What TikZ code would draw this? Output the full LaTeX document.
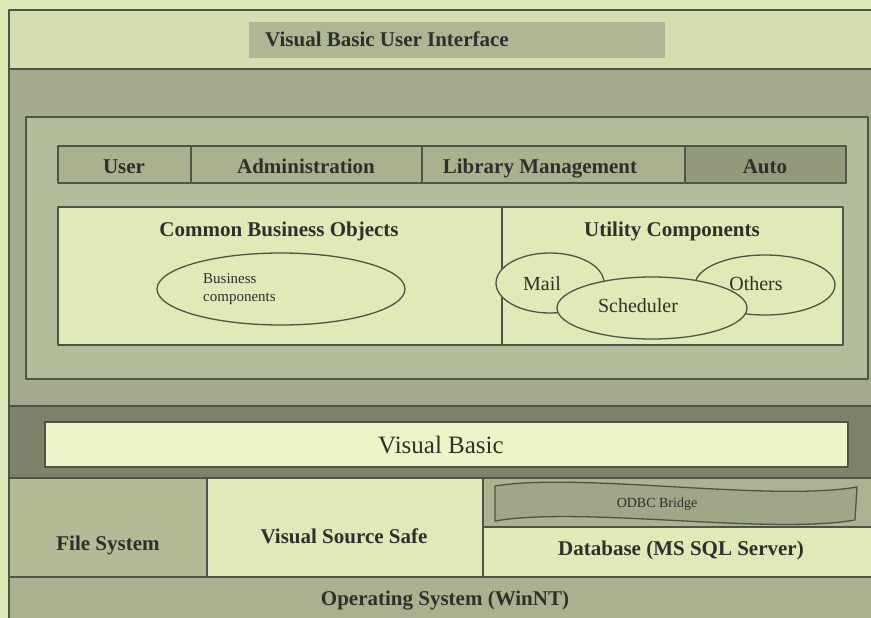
\documentclass[tikz,border=0pt]{standalone}
\usepackage{fontspec}
\setmainfont{Liberation Serif}
\usetikzlibrary{calc, positioning}

\definecolor{pagebg}{HTML}{DDE9B8}
\definecolor{topband}{HTML}{D4DEB2}
\definecolor{uigray}{HTML}{AEB696}
\definecolor{midband}{HTML}{A3AB8C}
\definecolor{innerpanel}{HTML}{B4BD9B}
\definecolor{rowgray}{HTML}{A9B18F}
\definecolor{autogray}{HTML}{939A7C}
\definecolor{lightbox}{HTML}{E0E9B8}
\definecolor{darkband}{HTML}{7C8369}
\definecolor{vbbar}{HTML}{EDF5C8}
\definecolor{fsgray}{HTML}{B2BA96}
\definecolor{odbcgray}{HTML}{ABB393}
\definecolor{bridgegray}{HTML}{9FA788}
\definecolor{osgray}{HTML}{A9B190}
\definecolor{edgegray}{HTML}{4F5444}
\definecolor{inkgray}{HTML}{2E302A}

\tikzset{
  panel/.style={draw=edgegray, line width=1.3pt},
  lbl/.style={text=inkgray, inner sep=0pt, text height=17pt, text depth=3pt,
    font=\bfseries\fontsize{21}{24}\selectfont},
  plain/.style={text=inkgray, inner sep=0pt, text height=16pt, text depth=3pt,
    font=\fontsize{20}{23}\selectfont}
}

\begin{document}
\begin{tikzpicture}[x=1pt, y=-1pt, line join=round]
\useasboundingbox (0,0) rectangle (871,618);
\fill[pagebg] (0,0) rectangle (871,618);

% User interface band
\filldraw[panel, fill=topband] (9,10) rectangle (880,69);
\fill[uigray] (249,22) rectangle (665,58);
\node[lbl, anchor=west] (vbui) at (265,40) {Visual Basic User Interface};

% Application band
\filldraw[panel, fill=midband] (9,69) rectangle (880,406);
\filldraw[panel, fill=innerpanel] (26,117) rectangle (868,379);

% Module row
\filldraw[panel, fill=rowgray] (58,146) rectangle (685,183);
\filldraw[panel, fill=autogray] (685,146) rectangle (846,183);
\draw[panel] (191,146) -- (191,183);
\draw[panel] (422,146) -- (422,183);
\node[lbl] (user) at (124,166) {User};
\node[lbl] (admin) at (306,166) {Administration};
\node[lbl] (libmgmt) at (540,166) {Library Management};
\node[lbl] (auto) at (765,166) {Auto};

% Component boxes
\filldraw[panel, fill=lightbox] (58,207) rectangle (843,345);
\draw[panel] (502,207) -- (502,345);
\node[lbl] (cbo) at (279,229) {Common Business Objects};
\node[lbl] (utility) at (672,229) {Utility Components};

% Components
\filldraw[panel, fill=lightbox] (281,289) ellipse [x radius=124, y radius=36];
\node[text=inkgray, inner sep=0pt, anchor=west, align=left, font=\fontsize{15}{18}\selectfont] (buscomp) at (203,289) {Business\\components};
\filldraw[panel, fill=lightbox] (550,283) ellipse [x radius=54, y radius=30];
\filldraw[panel, fill=lightbox] (765,285) ellipse [x radius=70, y radius=30];
\filldraw[panel, fill=lightbox] (652,308) ellipse [x radius=95, y radius=31];
\node[plain] (mail) at (542,284) {Mail};
\node[plain] (others) at (756,284) {Others};
\node[plain] (scheduler) at (638,306) {Scheduler};

% Visual Basic band
\filldraw[panel, fill=darkband] (9,406) rectangle (880,478);
\filldraw[panel, fill=vbbar] (45,422) rectangle (848,467);
\node[plain, text height=20pt, text depth=4pt, font=\fontsize{25}{28}\selectfont] (vb) at (441,445) {Visual Basic};

% Storage row
\filldraw[panel, fill=fsgray] (9,478) rectangle (207,577);
\filldraw[panel, fill=lightbox] (207,478) rectangle (483,577);
\filldraw[panel, fill=odbcgray] (483,478) rectangle (880,527);
\filldraw[panel, fill=lightbox] (483,527) rectangle (880,577);
\filldraw[panel, fill=bridgegray] (495,486) .. controls (580,472) and (770,502) .. (857,487)
  -- (855,520) .. controls (770,535) and (580,506) .. (495,521) -- cycle;
\node[lbl] (filesys) at (108,543) {File System};
\node[lbl] (vss) at (344,536) {Visual Source Safe};
\node[plain, text height=11pt, text depth=2pt, font=\fontsize{14}{16}\selectfont] (odbc) at (657,503) {ODBC Bridge};
\node[lbl] (db) at (681,548) {Database (MS SQL Server)};

% Operating system
\filldraw[panel, fill=osgray] (9,577) rectangle (880,630);
\node[lbl] (os) at (445,598) {Operating System (WinNT)};
\end{tikzpicture}
\end{document}
